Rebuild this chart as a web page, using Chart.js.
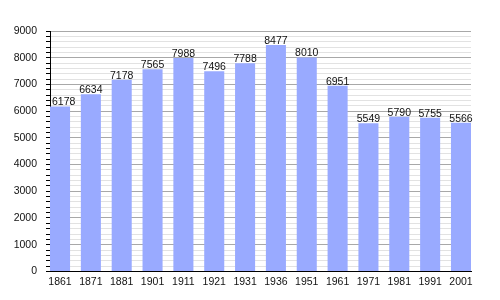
<!DOCTYPE html>
<html lang="en">
<head>
  <meta charset="UTF-8">
  <title>Population</title>
  <script src="https://cdn.jsdelivr.net/npm/chart.js@4"></script>
  <style>
    html, body { margin: 0; padding: 0; background: #fff; }
    #wrap { width: 500px; height: 300px; }
  </style>
</head>
<body>
<div id="wrap"><canvas id="myChart"></canvas></div>

<script>
  const years = ['1861', '1871', '1881', '1901', '1911', '1921', '1931', '1936', '1951', '1961', '1971', '1981', '1991', '2001'];
  const population = [6178, 6634, 7178, 7565, 7988, 7496, 7788, 8477, 8010, 6951, 5549, 5790, 5755, 5566];

  const barWidth = 0.65; // in slots, bars sit at the left of each slot

  // values printed above each bar, kept clear of the y axis line
  const valueLabels = {
    id: 'valueLabels',
    afterDatasetsDraw(chart) {
      const ctx = chart.ctx;
      const meta = chart.getDatasetMeta(0);
      const left = chart.chartArea.left;
      ctx.save();
      ctx.font = '10.5px "Liberation Sans", Arial, sans-serif';
      ctx.fillStyle = '#111';
      ctx.textAlign = 'center';
      ctx.textBaseline = 'alphabetic';
      meta.data.forEach((bar, i) => {
        const txt = String(population[i]);
        const w = ctx.measureText(txt).width;
        const x = Math.max(bar.x, left + 2 + w / 2);
        ctx.fillText(txt, x, bar.y - 1);
      });
      ctx.restore();
    }
  };

  Chart.defaults.font.family = '"Liberation Sans", Arial, sans-serif';
  Chart.defaults.font.size = 10.5;
  Chart.defaults.color = '#111';

  new Chart(document.getElementById('myChart'), {
    type: 'bar',
    data: {
      datasets: [{
        data: population.map((v, i) => ({ x: i + barWidth / 2, y: v })),
        backgroundColor: '#99aaff',
        borderWidth: 0,
        categoryPercentage: 1,
        barPercentage: barWidth
      }]
    },
    options: {
      responsive: true,
      maintainAspectRatio: false,
      animation: false,
      layout: { padding: { left: 6, right: 29, top: 31, bottom: 8 } },
      plugins: {
        legend: { display: false },
        tooltip: { enabled: false }
      },
      scales: {
        x: {
          type: 'linear',
          offset: false,
          min: 0,
          max: years.length - 1 + barWidth,
          afterBuildTicks: axis => {
            axis.ticks = years.map((_, i) => ({ value: i + barWidth / 2 }));
          },
          ticks: {
            autoSkip: false,
            maxRotation: 0,
            padding: 4,
            callback: (value, index) => years[index]
          },
          grid: { offset: false, drawOnChartArea: false, drawTicks: false },
          border: { color: '#000', width: 1 }
        },
        y: {
          min: 0,
          max: 9000,
          afterFit: axis => { axis.width = 44; },
          ticks: {
            stepSize: 200,
            maxTicksLimit: 100,
            autoSkip: false,
            padding: 9,
            callback: v => (v % 1000 === 0 ? v : '')
          },
          grid: {
            tickLength: 4,
            tickColor: '#000',
            color: ctx => (ctx.tick && ctx.tick.value % 1000 === 0 ? '#a8a8a8' : '#e2e2e2')
          },
          border: { color: '#000', width: 1 }
        }
      }
    },
    plugins: [valueLabels]
  });
</script>
</body>
</html>
